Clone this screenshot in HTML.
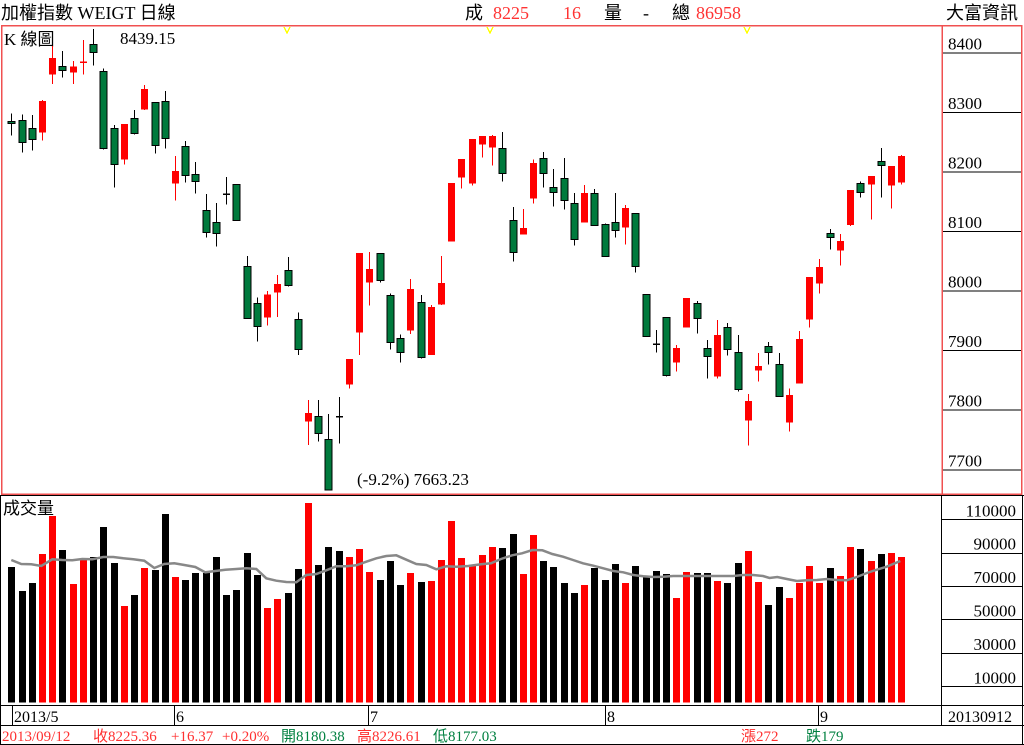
<!DOCTYPE html>
<html><head><meta charset="utf-8">
<style>
html,body{margin:0;padding:0;background:#fff;}
body{width:1024px;height:745px;overflow:hidden;position:relative;font-family:"Liberation Serif","Noto Serif CJK SC","Noto Sans CJK TC",serif;}
svg{position:absolute;left:0;top:0;}
text{font-family:"Liberation Serif","Noto Sans CJK TC",serif;}
</style></head><body>
<svg id="s" width="1024" height="745" xmlns="http://www.w3.org/2000/svg" shape-rendering="crispEdges">
<rect x="0" y="0" width="1024" height="745" fill="#fff"/>
<!-- header -->
<text x="1" y="19" font-size="18" fill="#000">加權指數 WEIGT 日線</text>
<text x="465" y="19" font-size="18" fill="#000">成</text>
<text x="493" y="19" font-size="18" fill="#ff3333">8225</text>
<text x="563" y="19" font-size="18" fill="#ff3333">16</text>
<text x="604" y="19" font-size="18" fill="#000">量</text>
<text x="643" y="19" font-size="18" fill="#000">-</text>
<text x="672" y="19" font-size="18" fill="#000">總</text>
<text x="696" y="19" font-size="18" fill="#ff3333">86958</text>
<text x="946" y="19" font-size="18" fill="#000">大富資訊</text>
<!-- price panel border -->
<rect x="1.5" y="25.5" width="1020" height="468.5" fill="none" stroke="#f05050" stroke-width="1.5"/>
<line x1="942" y1="25" x2="942" y2="494" stroke="#f05050" stroke-width="1.5"/>
<g id="pax"></g>
<!-- volume panel -->
<line x1="0" y1="495.5" x2="1024" y2="495.5" stroke="#000"/>
<line x1="0.5" y1="495" x2="0.5" y2="745" stroke="#000"/>
<line x1="1022.5" y1="495" x2="1022.5" y2="745" stroke="#000"/>
<line x1="941.5" y1="495" x2="941.5" y2="725" stroke="#000"/>
<line x1="0" y1="705.5" x2="1024" y2="705.5" stroke="#000"/>
<line x1="0" y1="725.5" x2="1024" y2="725.5" stroke="#000"/>
<line x1="0" y1="744.5" x2="1024" y2="744.5" stroke="#000"/>
<g id="vax"></g>
<text x="4" y="45" font-size="17" fill="#000">K 線圖</text>
<text x="120" y="44" font-size="17" fill="#000">8439.15</text>
<text x="357" y="485" font-size="17" fill="#000">(-9.2%) 7663.23</text>
<text x="3" y="514" font-size="17" fill="#000">成交量</text>
<g fill="none" stroke="#ffff00" stroke-width="1.2">
<polyline points="284,27 287,33 290,27"/>
<polyline points="487,27 490,33 493,27"/>
<polyline points="744,27 747,33 750,27"/>
</g>
<g id="cand"></g>
<g id="vol"></g>
<!-- date axis -->
<g stroke="#000"><line x1="12.5" y1="706" x2="12.5" y2="725"/><line x1="174.5" y1="706" x2="174.5" y2="725"/><line x1="368.5" y1="706" x2="368.5" y2="725"/><line x1="605.5" y1="706" x2="605.5" y2="725"/><line x1="818.5" y1="706" x2="818.5" y2="725"/></g>
<g font-size="16" fill="#000">
<text x="14" y="722">2013/5</text><text x="176" y="722">6</text><text x="370" y="722">7</text><text x="607" y="722">8</text><text x="820" y="722">9</text><text x="948" y="722">20130912</text>
</g>
<g font-size="15">
<text x="2" y="741" fill="#ff3030">2013/09/12</text>
<text x="93" y="741" fill="#ff3030">收8225.36</text>
<text x="171" y="741" fill="#ff3030">+16.37</text>
<text x="222" y="741" fill="#ff3030">+0.20%</text>
<text x="281" y="741" fill="#008040">開8180.38</text>
<text x="357" y="741" fill="#ff3030">高8226.61</text>
<text x="433" y="741" fill="#008040">低8177.03</text>
<text x="741" y="741" fill="#ff3030">漲272</text>
<text x="806" y="741" fill="#008040">跌179</text>
</g>
</svg>
<script>
var NS="http://www.w3.org/2000/svg";
function el(p,t,a,txt){var e=document.createElementNS(NS,t);for(var k in a)e.setAttribute(k,a[k]);if(txt)e.textContent=txt;document.getElementById(p).appendChild(e);return e;}
// price axis
var pl=[["8400",52.3],["8300",112],["8200",171.7],["8100",231],["8000",290.3],["7900",350],["7800",409.3],["7700",469.3]];
pl.forEach(function(p){el("pax","line",{x1:943,y1:p[1]+.5,x2:1021,y2:p[1]+.5,stroke:"#000"});el("pax","text",{x:948,y:p[1]-3,"font-size":17,fill:"#000"},p[0]);});
var vl=[["110000",519.3],["90000",552.7],["70000",586],["50000",619.3],["30000",653],["10000",686.3]];
vl.forEach(function(p){el("vax","line",{x1:942,y1:Math.round(p[1])+.5,x2:1022,y2:Math.round(p[1])+.5,stroke:"#000"});el("vax","text",{x:1016,y:p[1]-3,"font-size":17,fill:"#000","text-anchor":"end"},p[0]);});
// candles: wickTop, wickBot, bodyTop, bodyBot (zoom coords), color
var C=[[265,332,289,295,"g"],[268,383,286,352,"g"],[270,377,310,343,"g"],[225,347,228,323,"r"],[63,177,99,149,"r"],[78,158,124,137,"g"],[108,177,124,143,"r"],[45,149,111,113,"rd"],[12,122,58,82,"g"],[130,373,139,370,"g"],
[300,488,310,418,"g"],[297,419,297,404,"r"],[255,328,280,325,"g"],[180,255,192,254,"r"],[232,386,232,361,"g"],[198,371,229,341,"g"],[393,527,438,476,"r"],[348,473,364,451,"g"],[411,506,448,469,"g"],[507,638,556,622,"g"],
[534,665,592,625,"g"],[456,539,507,509,"d"],[478,586,478,586,"g"],[693,880,724,880,"g"],[817,950,835,904,"g"],[798,902,808,878,"r"],[750,876,777,803,"r"],[696,785,736,781,"g"],[862,990,883,973,"g"],[1125,1260,1164,1190,"r"],
[1125,1250,1174,1225,"g"],[1167,1395,1243,1395,"g"],[1116,1256,1174,1177,"d"],[1002,1090,1002,1079,"r"],[684,990,684,923,"r"],[681,842,732,773,"r"],[684,772,685,767,"g"],[805,973,811,952,"g"],[928,1013,940,983,"g"],[762,927,792,917,"r"],
[810,1000,832,997,"g"],[840,990,846,990,"r"],[693,840,774,839,"r"],[474,650,474,650,"r"],[402,491,402,458,"r"],[342,482,342,476,"r"],[333,398,333,358,"r"],[330,422,333,368,"r"],[321,470,370,445,"g"],[546,710,586,682,"g"],
[552,629,609,629,"r"],[403,536,414,521,"r"],[381,488,400,445,"g"],[432,545,487,502,"g"],[399,554,460,526,"g"],[504,662,535,643,"g"],[480,593,504,593,"r"],[492,601,505,601,"g"],[595,694,598,694,"g"],[504,638,592,616,"g"],
[540,659,549,608,"r"],[565,743,565,724,"g"],[808,934,808,934,"g"],[915,983,957,959,"d"],[877,1055,877,1051,"g"],[960,1040,969,1013,"r"],[819,908,819,908,"r"],[828,926,835,880,"g"],[945,1060,970,994,"g"],[885,1060,930,1055,"r"],
[894,992,907,973,"g"],[930,1100,982,1093,"g"],[1107,1262,1128,1187,"r"],[984,1070,1023,1037,"r"],[951,1019,964,982,"g"],[984,1114,1018,1114,"g"],[1091,1220,1110,1193,"r"],[918,1076,942,1076,"r"],[756,908,756,884,"r"],[702,806,726,776,"r"],
[612,674,625,637,"g"],[627,722,648,677,"r"],[495,603,495,600,"r"],[470,518,475,502,"g"],[453,584,453,479,"r"],[369,518,409,421,"g"],[423,551,423,482,"r"],[390,479,393,473,"r"]];
function Y(z){return 25+z/3;}
C.forEach(function(c,i){
 var x=Math.round(11.3+i*10.23);
 var wt=Y(c[0]),wb=Y(c[1]),bt=Y(c[2]),bb=Y(c[3]);
 var col=(c[4]=="r"||c[4]=="rd")?"#ff0000":"#000";
 el("cand","line",{x1:x+.5,y1:wt,x2:x+.5,y2:wb,stroke:col,"stroke-width":1});
 if(c[4]=="g"){el("cand","rect",{x:x-3,y:bt,width:7,height:Math.max(bb-bt,2),fill:"#007a3d",stroke:"#000","stroke-width":1});}
 else if(c[4]=="r"){el("cand","rect",{x:x-3,y:bt,width:7,height:Math.max(bb-bt,2),fill:"#ff0000"});}
 else{el("cand","line",{x1:x-3,y1:(bt+bb)/2,x2:x+4,y2:(bt+bb)/2,stroke:col,"stroke-width":1.5});}
});
// volume tops (zoom y), base 622
var V=[216,288,264,177,63,165,267,195,186,96,204,333,300,219,225,57,246,255,234,234,186,300,285,174,240,339,312,294,222,24,210,156,168,186,162,231,255,198,270,234,261,258,195,78,189,213,180,156,159,117,237,120,198,216,264,294,270,219,255,207,264,213,246,228,237,309,231,234,234,258,264,204,168,261,330,276,309,264,213,264,219,243,156,162,198,177,174,186];
V.forEach(function(v,i){
 var x=Math.round(11.3+i*10.23);
 var c=C[i][4];var col=(c=="r"||c=="rd")?"#ff0000":"#000";
 var t=495+v/3;
 el("vol","rect",{x:x-3,y:t,width:7,height:702.3-t,fill:col});
});
// MA line
var M8=[[34,195],[64,207],[94,208],[124,213],[157,193],[187,195],[217,196],[247,192],[277,193],[310,186],[340,186],[370,190],[400,193],[433,197],[463,219],[493,207],[523,205],[553,210],[586,216],[616,232],[646,228],[676,224],[709,222],[739,220],[769,222],[799,250],[829,257],[859,261],[889,262],[919,240],[949,237],[979,226],[1009,214],[1039,214],[1069,211],[1099,200],[1129,190],[1159,183],[1189,181],[1219,194],[1249,207],[1279,210],[1309,223],[1339,214],[1369,215],[1405,213]];
var M9=[[45,208],[73,205],[101,192],[132,181],[160,175],[189,165],[217,166],[245,177],[275,185],[303,195],[331,205],[360,212],[388,220],[416,228],[444,232],[472,240],[500,244],[528,246],[556,245],[584,243],[612,243],[640,243],[668,243],[696,243],[724,243],[752,243],[780,240],[808,240],[836,243],[854,249],[876,246],[903,252],[931,258],[959,256],[987,255],[1015,252],[1043,255],[1071,256],[1099,246],[1127,234],[1155,224],[1183,215],[1221,198]];
var pts=[];
M8.forEach(function(p){pts.push((p[0]/3).toFixed(1)+","+(495+p[1]/3).toFixed(1));});
M9.forEach(function(p){pts.push((465+p[0]/2.805).toFixed(1)+","+(495+p[1]/3).toFixed(1));});
el("vol","polyline",{points:pts.join(" "),fill:"none",stroke:"#888","stroke-width":2.5,"shape-rendering":"auto"});
</script>
</body></html>
